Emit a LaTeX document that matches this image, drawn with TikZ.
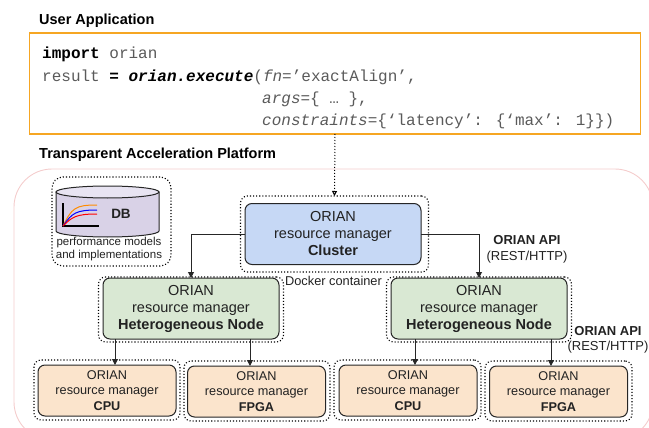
\documentclass[tikz,border=0pt]{standalone}
\usepackage{fontspec}
\setmainfont{Liberation Sans}
\newfontfamily\codefont{Liberation Mono}
\usetikzlibrary{arrows.meta}
\definecolor{txt}{HTML}{222222}
\definecolor{codegray}{HTML}{5A5A5A}
\definecolor{orangeline}{HTML}{F6A623}
\definecolor{pinkline}{HTML}{F4CCCC}
\definecolor{bluefill}{HTML}{C6D8F5}
\definecolor{greenfill}{HTML}{D9E8D3}
\definecolor{peachfill}{HTML}{FBE4CC}
\definecolor{dbfill}{HTML}{D9D2E7}
\definecolor{dbtop}{HTML}{E8E4F2}
\tikzset{
  box/.style={draw=black!85,line width=1pt,rounded corners=7pt,align=center,text=txt,inner sep=0pt,outer sep=0pt},
  big/.style={box,minimum width=176pt,minimum height=61pt,font=\fontsize{14.5}{17}\selectfont},
  small/.style={box,fill=peachfill,minimum width=138pt,minimum height=51pt,font=\fontsize{12.7}{15.5}\selectfont},
  halo/.style={draw=black,dash pattern=on 1.1pt off 2pt,line width=1.1pt,rounded corners=7pt,inner sep=0pt,outer sep=0pt},
  link/.style={draw=black!85,line width=1pt,-{Triangle[length=6pt,width=6pt]}},
  heading/.style={font=\fontsize{14.5}{16}\selectfont\bfseries,text=black,anchor=west,inner sep=0pt},
  code/.style={font=\fontsize{16}{18}\codefont,text=codegray,anchor=base west,inner sep=0pt},
  api/.style={align=center,text=txt,font=\fontsize{13}{15.5}\selectfont,inner sep=0pt},
}
\begin{document}
\begin{tikzpicture}[x=1pt,y=-1pt]
\useasboundingbox (0,0) rectangle (649,428);
\begin{scope}
\clip (0,0) rectangle (649,428);
\draw[pinkline,line width=0.9pt,rounded corners=38pt] (14,169) rectangle (653,440);
\end{scope}
\node[heading] (ua) at (39,21) {User Application};
\node[heading] (tap) at (39,155) {Transparent Acceleration Platform};
\node[draw=orangeline,line width=1.1pt,inner sep=0pt,outer sep=0pt,minimum width=611pt,minimum height=101pt] (top) at (335,83.5) {};
\node[code] (c1) at (42,58.5) {\textcolor{black}{\bfseries import} orian};
\node[code] (c2) at (42,81.5) {result \textcolor{black}{\bfseries = \itshape orian.execute}({\itshape fn}=’exactAlign’,};
\node[code] (c3) at (262,104) {{\itshape args}=\{ … \},};
\node[code] (c4) at (262,125) {{\itshape constraints}=\{‘latency’: \{‘max’: 1\}\})};
% halos
\node[halo,minimum width=188pt,minimum height=76pt] (clh) at (334.5,234) {};
\node[halo,minimum width=185pt,minimum height=65pt] (h1h) at (191,309.5) {};
\node[halo,minimum width=185pt,minimum height=65pt] (h2h) at (479,309.5) {};
\node[halo,minimum width=146pt,minimum height=60pt] (c1h) at (107,390) {};
\node[halo,minimum width=146pt,minimum height=60pt] (f1h) at (257,391) {};
\node[halo,minimum width=147pt,minimum height=60pt] (c2h) at (407.5,390) {};
\node[halo,minimum width=147pt,minimum height=60pt] (f2h) at (558.5,391) {};
\node[halo,rounded corners=11pt,minimum width=119pt,minimum height=89pt] (dbh) at (111.5,221.5) {};
% boxes
\node[big,fill=bluefill] (cl) at (333,234) {ORIAN\\resource manager\\\textbf{Cluster}};
\node[big,fill=greenfill] (h1) at (191,308.5) {ORIAN\\resource manager\\\textbf{Heterogeneous Node}};
\node[big,fill=greenfill] (h2) at (479,308.5) {ORIAN\\resource manager\\\textbf{Heterogeneous Node}};
\node[small] (c1b) at (107,390.5) {ORIAN\\resource manager\\\textbf{CPU}};
\node[small] (f1b) at (256.5,391.5) {ORIAN\\resource manager\\\textbf{FPGA}};
\node[small] (c2b) at (408,390.5) {ORIAN\\resource manager\\\textbf{CPU}};
\node[small] (f2b) at (558.5,391.5) {ORIAN\\resource manager\\\textbf{FPGA}};
% DB
\draw[fill=dbfill,draw=black!85,line width=1pt] (56,192) -- (56,231) arc[start angle=180,end angle=360,x radius=51.5pt,y radius=6pt] -- (159,192) -- cycle;
\draw[fill=dbtop,draw=black!85,line width=1pt] (107.5,192) ellipse[x radius=51.5pt,y radius=6pt];
\draw[black,line width=1.4pt] (63,203) -- (63,226) -- (99,226);
\draw[orange!90!yellow,line width=1pt] (63,226) .. controls (72,208) and (75,205) .. (97,205);
\draw[blue,line width=1pt] (63,226) .. controls (72,213) and (76,210) .. (97,210);
\draw[red,line width=1pt] (63,226) .. controls (72,217) and (76,214) .. (97,214);
\node[inner sep=0pt,font=\fontsize{13.5}{15}\selectfont\bfseries,text=txt] (db) at (121,214) {DB};
\node[inner sep=0pt,align=center,text=txt,font=\fontsize{11.5}{13}\selectfont] (dbl) at (109,249) {performance models\\and implementations};
% labels
\node[inner sep=0pt,text=txt,font=\fontsize{12.8}{14}\selectfont] (dc) at (333.5,281) {Docker container};
\node[api] (a1) at (527,249.5) {\textbf{ORIAN API}\\(REST/HTTP)};
\node[api] (a2) at (608,340) {\textbf{ORIAN API}\\(REST/HTTP)};
% connectors
\coordinate (p1) at (115,365);
\coordinate (p2) at (250,366);
\coordinate (p3) at (415,365);
\coordinate (p4) at (551,366);
\draw[link] (cl.west) -| (h1.north);
\draw[link] (cl.east) -| (h2.north);
\draw[link] (h1.south -| p1) -- (p1);
\draw[link] (h1.south -| p2) -- (p2);
\draw[link] (h2.south -| p3) -- (p3);
\draw[link] (h2.south -| p4) -- (p4);
\draw[dash pattern=on 1pt off 2pt,line width=1pt,-{Triangle[open,length=5pt,width=5pt]}] (top.south) -- (clh.north);
\end{tikzpicture}
\end{document}
